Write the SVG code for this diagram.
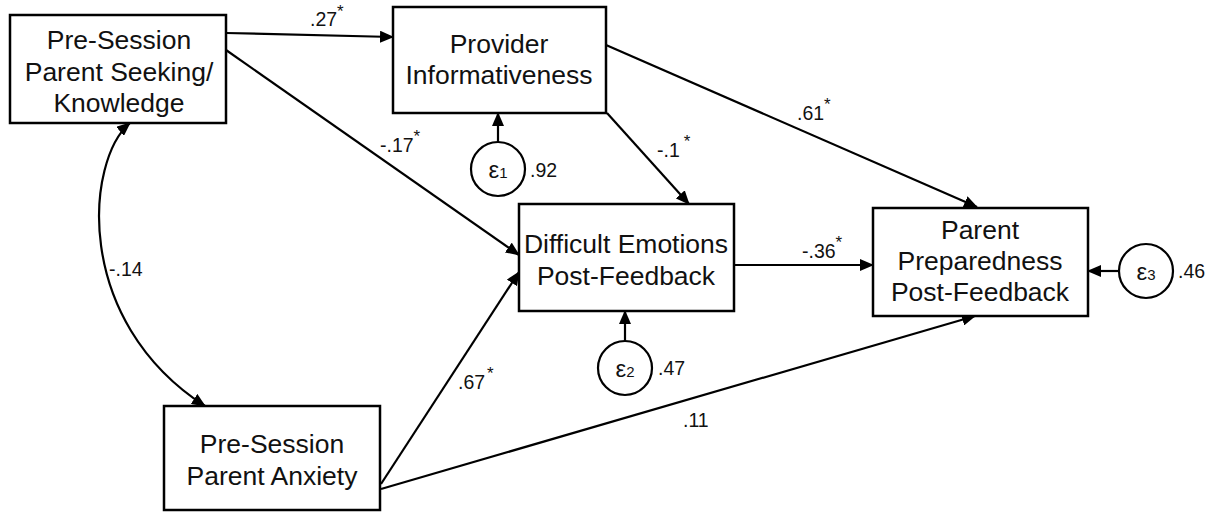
<svg xmlns="http://www.w3.org/2000/svg" width="1213" height="513" viewBox="0 0 1213 513">
  <style>
    .box { fill: #ffffff; stroke: #000000; stroke-width: 2.5; }
    .err { fill: #ffffff; stroke: #000000; stroke-width: 2.2; }
    .lbl { font-family: "Liberation Sans", Arial, sans-serif; font-size: 26.5px; fill: #111111; text-anchor: middle; }
    .coef { font-family: "Liberation Sans", Arial, sans-serif; font-size: 19.5px; fill: #111111; }
    .star { font-size: 17px; }
    .eps { font-family: "Liberation Sans", Arial, sans-serif; font-size: 24px; fill: #111111; text-anchor: middle; }
    .sub { font-size: 15px; }
    .path { fill: none; stroke: #000000; stroke-width: 2.2; marker-end: url(#arrow); }
  </style>
  <defs>
    <marker id="arrow" markerUnits="userSpaceOnUse" markerWidth="14" markerHeight="12" refX="13" refY="6" orient="auto">
      <path d="M0,0 L14,6 L0,12 Z" fill="#000000"/>
    </marker>
    <marker id="arrowStart" markerUnits="userSpaceOnUse" markerWidth="14" markerHeight="12" refX="1" refY="6" orient="auto">
      <path d="M14,0 L0,6 L14,12 Z" fill="#000000"/>
    </marker>
  </defs>

  <rect width="1213" height="513" fill="#ffffff"/>

  <!-- connectors -->
  <g id="connectors">
    <path class="path" d="M226,33 L393,37"/>
    <path class="path" d="M226,50 L519,255"/>
    <path class="path" d="M607,113 L689,204"/>
    <path class="path" d="M606,45 L977,207"/>
    <path class="path" d="M734,265 L873,265"/>
    <path class="path" d="M381,484 L519,272"/>
    <path class="path" d="M381,489 L975,316"/>
    <path class="path" d="M498,142 L498,113"/>
    <path class="path" d="M625,341 L625,311"/>
    <path class="path" d="M1119,271 L1088,271"/>
    <!-- covariance between the two exogenous variables -->
    <path class="path" d="M130,123 C86,160 72,320 205,406" marker-start="url(#arrowStart)"/>

    <text class="coef" x="310" y="26">.27<tspan class="star" dy="-9">*</tspan></text>
    <text class="coef" x="380" y="152">-.17<tspan class="star" dy="-10">*</tspan></text>
    <text class="coef" x="657" y="157">-.1<tspan class="star" dx="4" dy="-10">*</tspan></text>
    <text class="coef" x="797" y="120">.61<tspan class="star" dy="-10">*</tspan></text>
    <text class="coef" x="802" y="258">-.36<tspan class="star" dy="-10">*</tspan></text>
    <text class="coef" x="458" y="389">.67<tspan class="star" dx="2" dy="-10">*</tspan></text>
    <text class="coef" x="683" y="427">.11</text>
    <text class="coef" x="109" y="276">-.14</text>
    <text class="coef" x="530" y="177">.92</text>
    <text class="coef" x="658" y="375">.47</text>
    <text class="coef" x="1178" y="278">.46</text>
  </g>

  <!-- observed variables -->
  <g id="seeking">
    <rect class="box" x="10" y="15" width="216" height="108"/>
    <text class="lbl" x="119" y="49">Pre-Session</text>
    <text class="lbl" x="119" y="81">Parent Seeking/</text>
    <text class="lbl" x="119" y="112">Knowledge</text>
  </g>
  <g id="informativeness">
    <rect class="box" x="393" y="7" width="213" height="106"/>
    <text class="lbl" x="499" y="53">Provider</text>
    <text class="lbl" x="499" y="84">Informativeness</text>
  </g>
  <g id="emotions">
    <rect class="box" x="519" y="204" width="215" height="107"/>
    <text class="lbl" x="626" y="253">Difficult Emotions</text>
    <text class="lbl" x="626" y="285">Post-Feedback</text>
  </g>
  <g id="preparedness">
    <rect class="box" x="873" y="208" width="215" height="108"/>
    <text class="lbl" x="980" y="239">Parent</text>
    <text class="lbl" x="980" y="270">Preparedness</text>
    <text class="lbl" x="980" y="301">Post-Feedback</text>
  </g>
  <g id="anxiety">
    <rect class="box" x="164" y="406" width="216" height="104"/>
    <text class="lbl" x="272" y="453">Pre-Session</text>
    <text class="lbl" x="272" y="485">Parent Anxiety</text>
  </g>

  <!-- error terms -->
  <g id="e1">
    <circle class="err" cx="498" cy="169" r="27"/>
    <text class="eps" x="498" y="178">ε<tspan class="sub">1</tspan></text>
  </g>
  <g id="e2">
    <circle class="err" cx="625" cy="368" r="27"/>
    <text class="eps" x="625" y="377">ε<tspan class="sub">2</tspan></text>
  </g>
  <g id="e3">
    <circle class="err" cx="1146" cy="271" r="27"/>
    <text class="eps" x="1146" y="280">ε<tspan class="sub">3</tspan></text>
  </g>
</svg>
